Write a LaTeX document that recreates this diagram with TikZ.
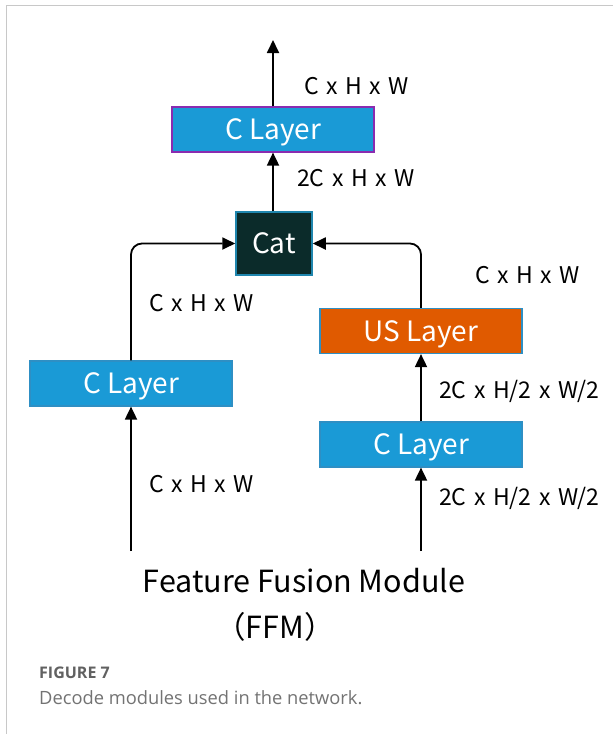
\documentclass[tikz,border=0pt]{standalone}
\usepackage{fontspec}
\setmainfont{Noto Sans CJK SC}
\newfontfamily\capfont{Open Sans}
\usetikzlibrary{arrows.meta}
\definecolor{cblue}{HTML}{1A9AD6}
\definecolor{cborder}{HTML}{2E8FC4}
\definecolor{purp}{HTML}{8A2BB0}
\definecolor{catfill}{HTML}{0B2B2A}
\definecolor{catline}{HTML}{1F86AE}
\definecolor{usfill}{HTML}{E05A00}
\definecolor{usline}{HTML}{2E8FC4}
\definecolor{framegray}{HTML}{C8C8C8}
\newcommand\dimfont{\fontsize{23}{23}\selectfont\spaceskip=7.5pt plus 1pt\relax}
\tikzset{
  blocktext/.style={text=white, inner sep=0pt, text height=20pt, text depth=0pt,
    font=\fontsize{28}{28}\selectfont},
  layer/.style={blocktext, draw=cborder, line width=1.2pt, fill=cblue,
    minimum width=202pt, minimum height=45pt},
  dimlabel/.style={anchor=west, inner sep=0pt, font=\dimfont},
  flow/.style={line width=1.8pt, -{Triangle[length=13pt,width=12pt]}, rounded corners=11pt},
}
\begin{document}
\begin{tikzpicture}[x=1pt,y=-1pt]
\useasboundingbox (0,0) rectangle (613,734);
\fill[white] (0,0) rectangle (613,734);
% page frame
\draw[framegray, line width=1.3pt] (613,5.5) -- (6.5,5.5) -- (6.5,734);

% blocks
\node[layer, draw=purp] (ctop) at (273,129.5) {C Layer};
\node[blocktext, draw=catline, line width=1.5pt, fill=catfill, minimum width=76pt,
  minimum height=63pt] (cat) at (274,243.5) {Cat};
\node[layer, draw=usline, fill=usfill] (us) at (421,331) {US Layer};
\node[layer] (cleft) at (131,383.5) {C Layer};
\node[layer] (cright) at (421,444.5) {C Layer};

\coordinate (out) at (273,40);
\coordinate (inleft) at (131,551);
\coordinate (inright) at (421,551);

% connectors
\draw[flow] (ctop.north) -- (out);
\draw[flow] (cat.north -| ctop) -- (ctop.south);
\draw[flow] (cleft.north) |- (cat.west);
\draw[flow] (us.north) |- (cat.east);
\draw[flow] (cright.north) -- (us.south);
\draw[flow] (inright) -- (cright.south);
\draw[flow] (inleft) -- (cleft.south);

% tensor sizes
\node[dimlabel] (l1) at (304,86) {C x H x W};
\node[dimlabel] (l2) at (297,178) {2C x H x W};
\node[dimlabel] (l3) at (149,303) {C x H x W};
\node[dimlabel] (l4) at (475,275) {C x H x W};
\node[dimlabel] (l5) at (439,391) {2C x H/2 x W/2};
\node[dimlabel] (l6) at (149,484) {C x H x W};
\node[dimlabel] (l7) at (439,498) {2C x H/2 x W/2};

% title
\node[inner sep=0pt, font=\fontsize{30.5}{30}\selectfont] (title) at (304,581) {Feature Fusion Module};
\node[inner sep=0pt, font=\fontsize{30.5}{30}\selectfont] (ffm) at (275,627) {（FFM）};

% caption
\node[anchor=west, inner sep=0pt, text=black!62, font=\capfont\bfseries\fontsize{16}{16}\selectfont] (fig) at (39,673) {FIGURE 7};
\node[anchor=west, inner sep=0pt, text=black!55, font=\capfont\fontsize{18.3}{18}\selectfont] (capt) at (39,698) {Decode modules used in the network.};
\end{tikzpicture}
\end{document}
